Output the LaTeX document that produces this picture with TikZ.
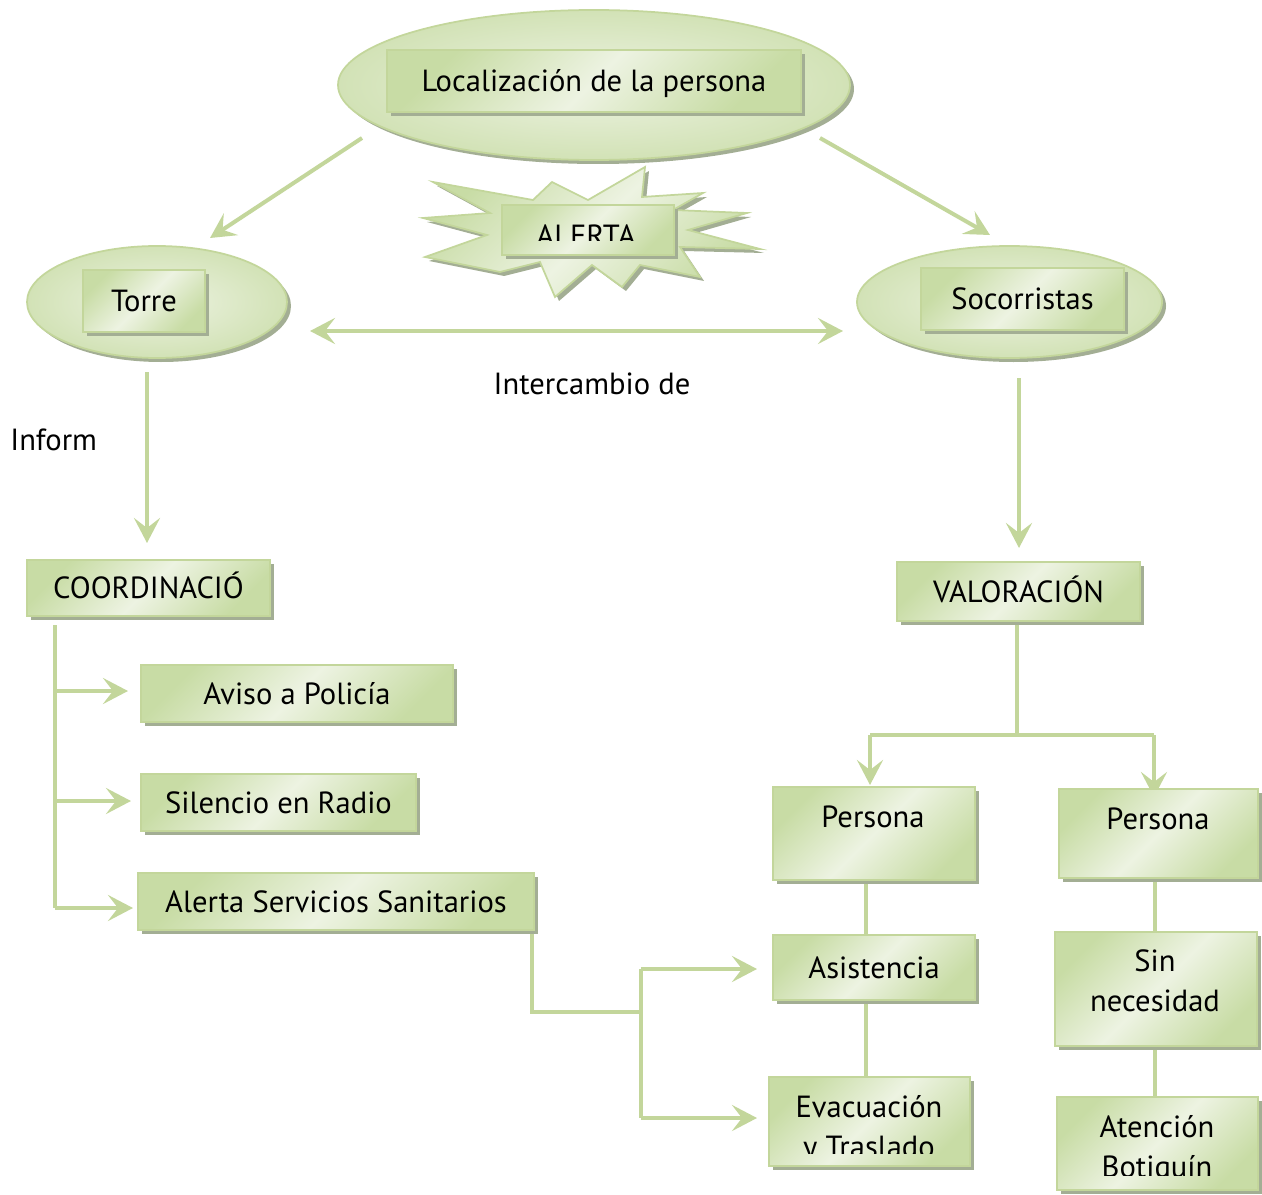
\documentclass[tikz,border=0pt]{standalone}
\usepackage{fontspec}
\setmainfont{PT Sans}
\usetikzlibrary{arrows.meta,shadows,shapes.geometric}
\definecolor{lnC}{HTML}{C3D69B}
\definecolor{fillD}{HTML}{C8DCA5}
\definecolor{fillL}{HTML}{EDF3E2}
\definecolor{ellD}{HTML}{D2E2B6}
\definecolor{shad}{HTML}{A3AE94}
\pgfdeclarelayer{bg}
\pgfsetlayers{bg,main}
\begin{document}
\begin{tikzpicture}[x=0.2mm,y=-0.2mm,
  every node/.style={font=\fontsize{17.4}{21}\selectfont, inner sep=0pt},
  sh/.style={drop shadow={shadow xshift=0.8mm, shadow yshift=-0.8mm, fill=shad, opacity=1}},
  box/.style={draw=lnC, line width=0.35mm, left color=fillD, right color=fillD, middle color=fillL, shading angle=45, sh, text height=12pt, text depth=0pt},
  ell/.style={ellipse, draw=lnC, line width=0.35mm, inner color=fillL, outer color=ellD, sh},
  con/.style={draw=lnC, line width=0.8mm},
  arr/.style={con, -{Stealth[length=5mm,width=5.2mm,inset=2mm]}},
  dbl/.style={con, {Stealth[length=5mm,width=5.2mm,inset=2mm]}-{Stealth[length=5mm,width=5.2mm,inset=2mm]}},
]
\useasboundingbox (0,0) rectangle (1262,1194);

% top ellipse
\node[ell, minimum width=102.4mm, minimum height=30mm] (locE) at (594,85) {};
\node[box, minimum width=82.8mm, minimum height=12.4mm] (loc) at (594,81) {Localización de la persona};

% star
\path[draw=lnC, line width=0.35mm, left color=fillD, right color=fillD, middle color=fillL, shading angle=45, sh]
 (433,182) -- (533,200) -- (552,182) -- (588,200) -- (645,167) -- (642,197) -- (703,193)
 -- (673,210) -- (747,213) -- (688,230) -- (760,249) -- (680,247) -- (700,277) -- (640,265)
 -- (622,287) -- (592,265) -- (555,297) -- (540,262) -- (500,272) -- (425,257) -- (487,235)
 -- (423,218) -- (490,213) -- cycle;
\node[box, minimum width=34.4mm, minimum height=10mm] (alerta) at (588,230) {};
\begin{scope}
\clip (503,206) rectangle (673,241);
\node[anchor=base] (alertat) at (586,247) {ALERTA};
\end{scope}

% Torre / Socorristas
\node[ell, minimum width=52mm, minimum height=22.4mm] (torreE) at (157,302) {};
\node[box, minimum width=24.4mm, minimum height=12.4mm] (torre) at (144,301) {Torre};
\node[ell, minimum width=61mm, minimum height=22.4mm] (socE) at (1009.5,302) {};
\node[box, minimum width=40.6mm, minimum height=12.4mm] (soc) at (1022.5,299) {Socorristas};

\node (inter) at (592,384) {Intercambio de};
\node[anchor=west] (inform) at (10,440) {Inform};

% level boxes
\node[box, minimum width=48.6mm, minimum height=11.2mm] (coord) at (148.5,588) {COORDINACIÓ};
\node[box, minimum width=48.6mm, minimum height=11.8mm] (valor) at (1018.5,591.5) {VALORACIÓN};

\node[box, minimum width=62.4mm, minimum height=11.4mm] (aviso) at (297,693.5) {Aviso a Policía};
\node[box, minimum width=55mm, minimum height=11.4mm] (silen) at (278.5,802.5) {Silencio en Radio};
\node[box, minimum width=79.2mm, minimum height=11.4mm] (alertS) at (336,901.5) {Alerta Servicios Sanitarios};

\node[box, minimum width=40.4mm, minimum height=18.6mm] (persL) at (874,833.5) {};
\node[anchor=base] (persLt) at (873,827) {Persona};
\node[box, minimum width=39.8mm, minimum height=17.8mm] (persR) at (1158.5,833.5) {};
\node[anchor=base] (persRt) at (1158,829) {Persona};

\node[box, minimum width=40.4mm, minimum height=13mm] (asist) at (874,967.5) {Asistencia};

\node[box, minimum width=40.2mm, minimum height=17.8mm] (evac) at (869.5,1121.5) {};
\begin{scope}
\clip (770,1078) rectangle (969,1153);
\node[anchor=base] (evact1) at (869,1117) {Evacuación};
\node[anchor=base] (evact2) at (869,1157) {y Traslado};
\end{scope}

\node[box, minimum width=40.4mm, minimum height=22.8mm] (sinn) at (1156,989) {};
\node[anchor=base] (sint1) at (1155,971) {Sin};
\node[anchor=base] (sint2) at (1155,1011) {necesidad};

\node[box, minimum width=40.2mm, minimum height=18.6mm] (aten) at (1157.5,1143.5) {};
\begin{scope}
\clip (1058,1098) rectangle (1257,1175);
\node[anchor=base] (atent1) at (1157,1137) {Atención};
\node[anchor=base] (atent2) at (1157,1177) {Botiquín};
\end{scope}

% connector coordinates
\coordinate (l1) at (362,138); \coordinate (t1) at (210,238);
\coordinate (l2) at (820,138); \coordinate (s1) at (990,235);
\coordinate (d1) at (310,331); \coordinate (d2) at (843,331);
\coordinate (t2) at (147,372); \coordinate (c1) at (147,543);
\coordinate (s2) at (1019,378); \coordinate (v1) at (1019,548);
\coordinate (c2) at (55,625); \coordinate (c3) at (55,691); \coordinate (c4) at (55,801); \coordinate (c5) at (55,908);
\coordinate (a1) at (128,691); \coordinate (a2) at (131,801); \coordinate (a3) at (133,908);
\coordinate (e1) at (532,930); \coordinate (e2) at (532,1012); \coordinate (e3) at (641,1012);
\coordinate (e4) at (641,969); \coordinate (e5) at (641,1118);
\coordinate (e6) at (757,969); \coordinate (e7) at (757,1118);
\coordinate (v2) at (1017,621); \coordinate (v3) at (1017,735);
\coordinate (v4) at (870,735); \coordinate (v5) at (1154,735);
\coordinate (v6) at (870,785); \coordinate (v7) at (1154,797);
\coordinate (p1) at (866,880); \coordinate (p2) at (866,935);
\coordinate (p3) at (866,1000); \coordinate (p4) at (866,1083);
\coordinate (q1) at (1155,878); \coordinate (q2) at (1155,932);
\coordinate (q3) at (1155,1046); \coordinate (q4) at (1155,1097);

\begin{pgfonlayer}{bg}
\draw[arr] (l1) -- (t1);
\draw[arr] (l2) -- (s1);
\draw[dbl] (d1) -- (d2);
\draw[arr] (t2) -- (c1);
\draw[arr] (s2) -- (v1);
\draw[con] (c2) -- (c5);
\draw[arr] (c3) -- (a1);
\draw[arr] (c4) -- (a2);
\draw[arr] (c5) -- (a3);
\draw[con] (e1) -- (e2) -- (e3);
\draw[con] (e4) -- (e5);
\draw[arr] (e4) -- (e6);
\draw[arr] (e5) -- (e7);
\draw[con] (v2) -- (v3);
\draw[con] (v4) -- (v5);
\draw[arr] (v4) -- (v6);
\draw[arr] (v5) -- (v7);
\draw[con] (p1) -- (p2);
\draw[con] (p3) -- (p4);
\draw[con] (q1) -- (q2);
\draw[con] (q3) -- (q4);
\end{pgfonlayer}
\end{tikzpicture}
\end{document}
